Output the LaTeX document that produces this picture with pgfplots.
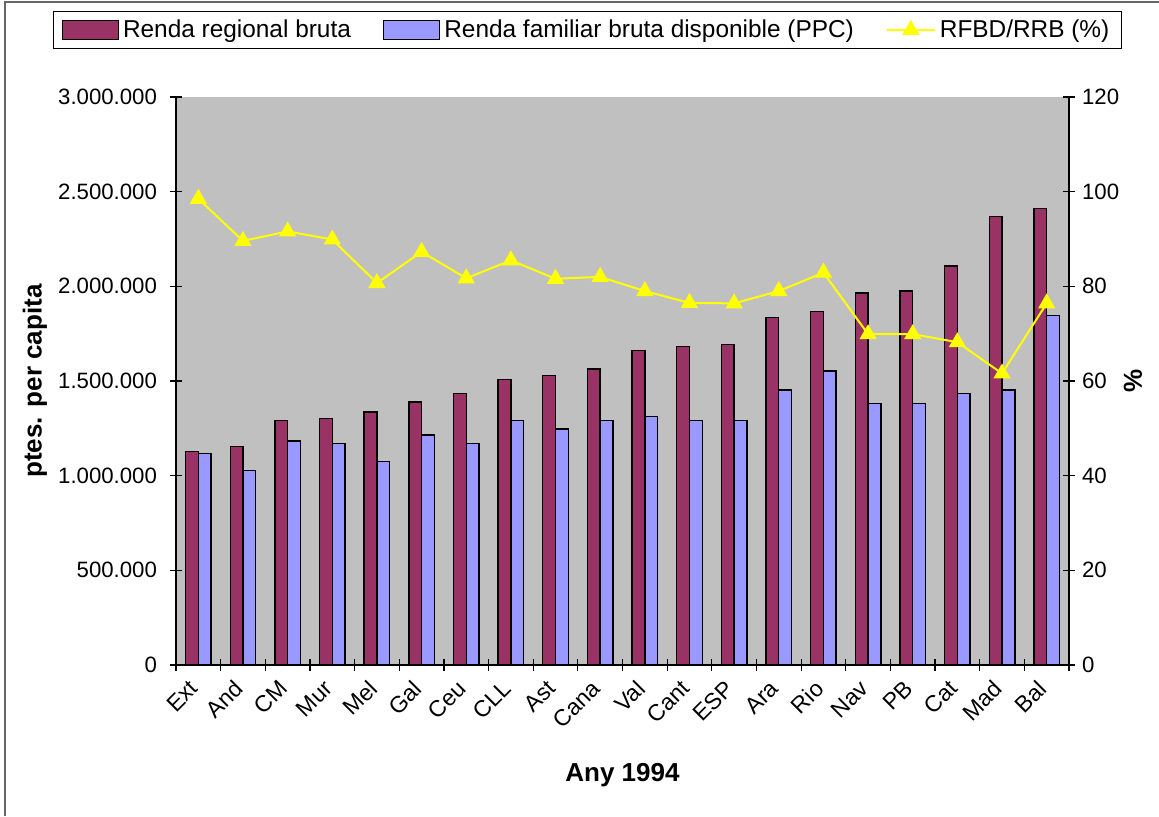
\documentclass[border=0pt]{standalone}
\usepackage{fontspec}
\setmainfont{Liberation Sans}
\usepackage{pgfplots}
\pgfplotsset{compat=1.18}
\usepackage{pgfplotstable}
\definecolor{RRB}{RGB}{153,51,102}
\definecolor{RFB}{RGB}{153,153,255}
\definecolor{BG}{RGB}{192,192,192}
\definecolor{YL}{RGB}{255,255,0}

% x = category index, red = renda regional bruta, blue = renda familiar, pct = ratio
\pgfplotstableread{
x  red     blue    pct
0  1127000 1117000 98.5
1  1153000 1028000 89.6
2  1290000 1183000 91.6
3  1302000 1171000 89.9
4  1336000 1074000 80.7
5  1390000 1215000 87.3
6  1433000 1171000 81.7
7  1509000 1290000 85.5
8  1529000 1246000 81.6
9  1563000 1290000 82.0
10 1660000 1314000 79.0
11 1682000 1290000 76.5
12 1694000 1290000 76.4
13 1835000 1453000 79.0
14 1867000 1553000 82.9
15 1964000 1380000 69.9
16 1976000 1380000 69.9
17 2107000 1433000 68.2
18 2368000 1453000 61.6
19 2410000 1845000 76.4
}\renta

\newcommand{\lblfont}{\fontsize{13pt}{15pt}\selectfont\bfseries}
\pgfplotsset{
  base/.style={
    scale only axis, width=446.5pt, height=284pt,
    xmin=-0.5, xmax=19.5,
    axis line style={line width=0.6pt, -},
    tick align=center, major tick length=6pt, minor tick length=6pt,
    tick style={black, line width=0.6pt},
    ticklabel style={font=\fontsize{11.1pt}{13pt}\selectfont},
    /pgf/number format/assume math mode=true,
    scaled y ticks=false,
  },
  barleg/.style={legend image code/.code={%
    \draw[fill=#1, draw=black, line width=0.7pt] (0pt,-4.75pt) rectangle (28pt,4.75pt);}},
  trileg/.style={legend image code/.code={%
    \draw[mark repeat=2, mark phase=2, ##1] plot coordinates {(0pt,0pt) (12pt,0pt) (24pt,0pt)};}},
}

\begin{document}
\begin{tikzpicture}
\path[use as bounding box] (-88pt,-75.5pt) rectangle (491.5pt,332.5pt);
\draw[black!60, line width=0.6pt] (-85.5pt,-75.5pt) -- (-85.5pt,331.5pt) -- (491.5pt,331.5pt);

\begin{axis}[base,
  ymin=0, ymax=3000000,
  axis background/.style={fill=BG},
  axis x line*=bottom, axis y line*=left,
  xtick={0,...,19},
  major x tick style={draw=none},
  minor xtick={-0.5,0.5,...,19.5},
  xticklabels={Ext,And,CM,Mur,Mel,Gal,Ceu,CLL,Ast,Cana,Val,Cant,ESP,Ara,Rio,Nav,PB,Cat,Mad,Bal},
  xticklabel style={xshift=-5pt, yshift=1pt, rotate=45, anchor=north east,
    font=\fontsize{11.5pt}{13pt}\selectfont},
  ytick={0,500000,1000000,1500000,2000000,2500000,3000000},
  yticklabels={0,500.000,1.000.000,1.500.000,2.000.000,2.500.000,3.000.000},
  yticklabel style={xshift=-3pt},
  ylabel={ptes. per capita},
  every axis y label/.style={at={(axis description cs:-0.1579,0.5)}, rotate=90, anchor=center, font=\lblfont},
  xlabel={Any 1994},
  every axis x label/.style={at={(axis description cs:0.5,-0.1937)}, anchor=center, font=\lblfont},
]
\addplot[ybar, bar width=0.2857, bar shift=-0.1429, fill=RRB, draw=black, line width=0.7pt]
  table[x=x, y=red] {\renta};
\addplot[ybar, bar width=0.2857, bar shift=0.1429, fill=RFB, draw=black, line width=0.7pt]
  table[x=x, y=blue] {\renta};
\end{axis}

\begin{axis}[base,
  ymin=0, ymax=120,
  axis x line=none, axis y line*=right,
  ytick={0,20,...,120},
  ylabel={\%},
  every axis y label/.style={at={(axis description cs:1.0717,0.5)}, rotate=90, anchor=center, font=\lblfont},
  legend columns=3,
  legend style={at={(axis description cs:-0.1377,1.1514)}, anchor=north west,
    draw=black, line width=0.6pt, fill=white,
    font=\fontsize{12.2pt}{14pt}\selectfont,
    inner xsep=4pt, inner ysep=2pt,
    /tikz/every even column/.append style={column sep=14pt}},
]
\addlegendimage{barleg=RRB}
\addlegendentry{Renda regional bruta}
\addlegendimage{barleg=RFB}
\addlegendentry{Renda familiar bruta disponible (PPC)}
\addplot[YL, line width=1pt, mark=triangle*, mark size=4pt, mark options={fill=YL, draw=YL}, trileg]
  table[x=x, y=pct] {\renta};
\addlegendentry{RFBD/RRB (\%)}
\end{axis}
\end{tikzpicture}
\end{document}
